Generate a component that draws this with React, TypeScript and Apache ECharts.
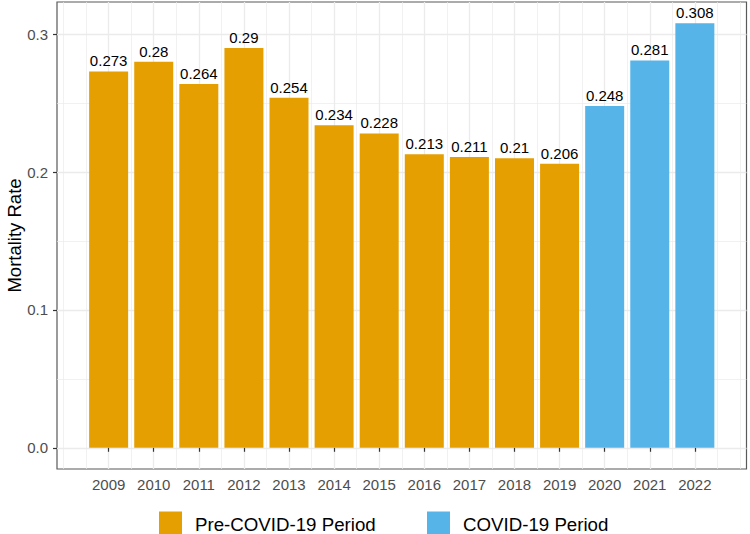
import React, { useEffect, useRef } from "react";
import * as echarts from "echarts";

const years = [2009, 2010, 2011, 2012, 2013, 2014, 2015, 2016, 2017, 2018, 2019, 2020, 2021, 2022];
const rates = [0.273, 0.28, 0.264, 0.29, 0.254, 0.234, 0.228, 0.213, 0.211, 0.21, 0.206, 0.248, 0.281, 0.308];
const covidStart = 2020;
const yTicks = [0, 0.1, 0.2, 0.3];
const xGridValues = [2008, 2008.5, 2009, 2009.5, 2010, 2010.5, 2011, 2011.5, 2012, 2012.5, 2013, 2013.5, 2014, 2014.5, 2015, 2015.5, 2016, 2016.5, 2017, 2017.5, 2018, 2018.5, 2019, 2019.5, 2020, 2020.5, 2021, 2021.5, 2022, 2022.5, 2023];
const yGridValues = [0, 0.05, 0.1, 0.15, 0.2, 0.25, 0.3];
const seriesNames = ["Pre-COVID-19 Period", "COVID-19 Period"];

const FONT = "'Liberation Sans', Arial, Helvetica, sans-serif";
const ORANGE = "#E69F00";
const BLUE = "#56B4E9";

export default function App() {
  const ref = useRef<HTMLDivElement>(null);
  useEffect(() => {
    if (!ref.current) return;
    const chart = echarts.init(ref.current, null, { renderer: "svg" });
    const pre = years.map((y, i) => [y, rates[i]]).filter((d) => d[0] < covidStart);
    const cov = years.map((y, i) => [y, rates[i]]).filter((d) => d[0] >= covidStart);
    const isMajor = (v: number, step: number) => Math.abs(v / step - Math.round(v / step)) < 1e-6;
    const gridLines = [
      ...xGridValues.map((v) => ({
        xAxis: v,
        lineStyle: { color: "#EBEBEB", width: isMajor(v, 1) && v >= 2009 && v <= 2022 ? 1.3 : 0.7, type: "solid" },
      })),
      ...yGridValues.map((v) => ({
        yAxis: v,
        lineStyle: { color: "#EBEBEB", width: isMajor(v, 0.1) ? 1.3 : 0.7, type: "solid" },
      })),
    ];
    const barLabel = {
      show: true,
      position: "top",
      distance: 3,
      fontSize: 15,
      fontFamily: FONT,
      color: "#000000",
      formatter: (p: any) => String(p.value[1]),
    };
    chart.setOption({
      animation: false,
      backgroundColor: "#ffffff",
      grid: {
        left: 57,
        right: 3.5,
        top: 2,
        bottom: 65,
        show: true,
        backgroundColor: "#ffffff",
        borderColor: "#595959",
        borderWidth: 1.2,
        containLabel: false,
      },
      xAxis: {
        type: "value",
        min: 2007.855,
        max: 2023.145,
        axisLine: { show: false },
        splitLine: { show: false },
        axisTick: { show: true, customValues: years, length: 4, lineStyle: { color: "#333333", width: 1.2 } },
        axisLabel: {
          show: true,
          customValues: years,
          margin: 8,
          fontSize: 15,
          fontFamily: FONT,
          color: "#4D4D4D",
          formatter: (v: number) => String(v),
        },
      },
      yAxis: {
        type: "value",
        min: -0.0154,
        max: 0.3234,
        axisLine: { show: false },
        splitLine: { show: false },
        axisTick: { show: true, customValues: yTicks, length: 4, lineStyle: { color: "#333333", width: 1.2 } },
        axisLabel: {
          show: true,
          customValues: yTicks,
          margin: 9,
          fontSize: 15,
          fontFamily: FONT,
          color: "#4D4D4D",
          formatter: (v: number) => v.toFixed(1),
        },
      },
      series: [
        {
          type: "line",
          name: "grid",
          z: 0,
          data: [[2009, 0]],
          showSymbol: false,
          symbol: "none",
          lineStyle: { opacity: 0 },
          silent: true,
          markLine: {
            z: 0,
            silent: true,
            symbol: ["none", "none"],
            label: { show: false },
            animation: false,
            data: gridLines,
          },
        },
        {
          type: "bar",
          name: seriesNames[0],
          z: 3,
          data: pre,
          barWidth: 39,
          barGap: "-100%",
          itemStyle: { color: ORANGE },
          label: barLabel,
        },
        {
          type: "bar",
          name: seriesNames[1],
          z: 3,
          data: cov,
          barWidth: 39,
          barGap: "-100%",
          itemStyle: { color: BLUE },
          label: barLabel,
        },
      ],
      graphic: [
        {
          type: "text",
          x: 14,
          y: 235.5,
          rotation: Math.PI / 2,
          style: {
            text: "Mortality Rate",
            fontSize: 18.5,
            fontFamily: FONT,
            fill: "#000000",
            align: "center",
            verticalAlign: "middle",
          },
        },
        { type: "rect", shape: { x: 159, y: 511.5, width: 23, height: 23 }, style: { fill: ORANGE } },
        {
          type: "text",
          x: 195,
          y: 524,
          style: { text: seriesNames[0], fontSize: 18.7, fontFamily: FONT, fill: "#000000", align: "left", verticalAlign: "middle" },
        },
        { type: "rect", shape: { x: 427, y: 511.5, width: 23, height: 23 }, style: { fill: BLUE } },
        {
          type: "text",
          x: 463,
          y: 524,
          style: { text: seriesNames[1], fontSize: 18.7, fontFamily: FONT, fill: "#000000", align: "left", verticalAlign: "middle" },
        },
      ],
    });
    return () => chart.dispose();
  }, []);
  return <div ref={ref} style={{ position: "fixed", left: 0, top: 0, width: 750, height: 534 }} />;
}
